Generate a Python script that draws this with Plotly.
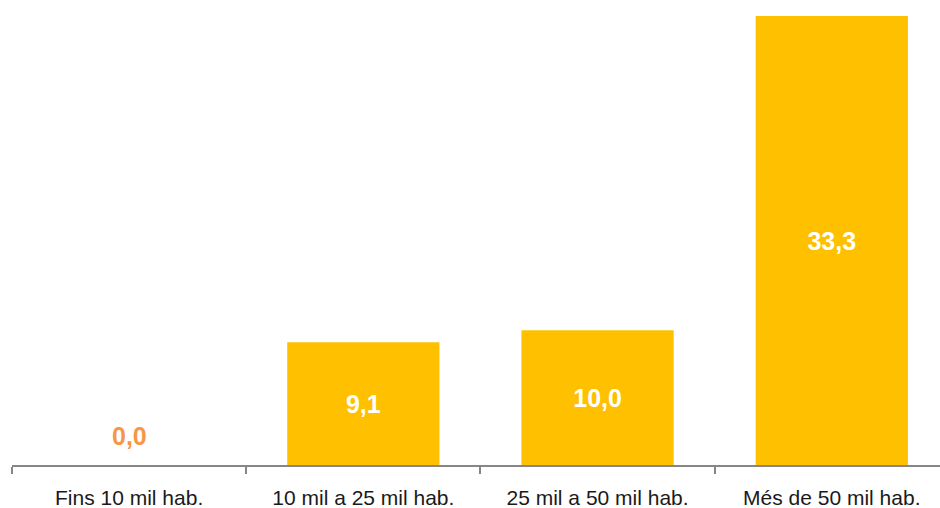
import plotly.graph_objects as go

categories = ["Fins 10 mil hab.", "10 mil a 25 mil hab.", "25 mil a 50 mil hab.", "Més de 50 mil hab."]
values = [0.0, 9.1, 10.0, 33.3]
labels = ["0,0", "9,1", "10,0", "33,3"]

bar_text = [l if v > 0 else "" for l, v in zip(labels, values)]

fig = go.Figure()
fig.add_trace(go.Bar(
    x=categories, y=values, width=0.65,
    marker=dict(color="#FFC000", line=dict(width=0)),
    text=bar_text, textposition="inside", insidetextanchor="middle",
    textfont=dict(color="white", size=25, family="Liberation Sans"),
    texttemplate="<b>%{text}</b>", textangle=0,
    hoverinfo="skip",
))
for c, v, l in zip(categories, values, labels):
    if v == 0:
        fig.add_annotation(x=c, y=v, text="<b>" + l + "</b>", showarrow=False,
                           yanchor="bottom", yshift=13,
                           font=dict(color="#F79646", size=25, family="Liberation Sans"))

fig.update_layout(
    width=940, height=508,
    margin=dict(l=12, r=0, t=0, b=43),
    plot_bgcolor="white", paper_bgcolor="white",
    showlegend=False,
    font=dict(family="Liberation Sans", size=21, color="#1a1a1a"),
)
fig.update_xaxes(
    type="category", range=[-0.5, 3.462],
    showline=True, linecolor="#868686", linewidth=1.5,
    ticks="outside", tickson="boundaries", ticklen=7, tickcolor="#868686", tickwidth=1.5,
    showgrid=False, ticklabelstandoff=13,
)
fig.update_yaxes(range=[0, 34.49], visible=False, showgrid=False, zeroline=False)

fig.write_html("out.html")
